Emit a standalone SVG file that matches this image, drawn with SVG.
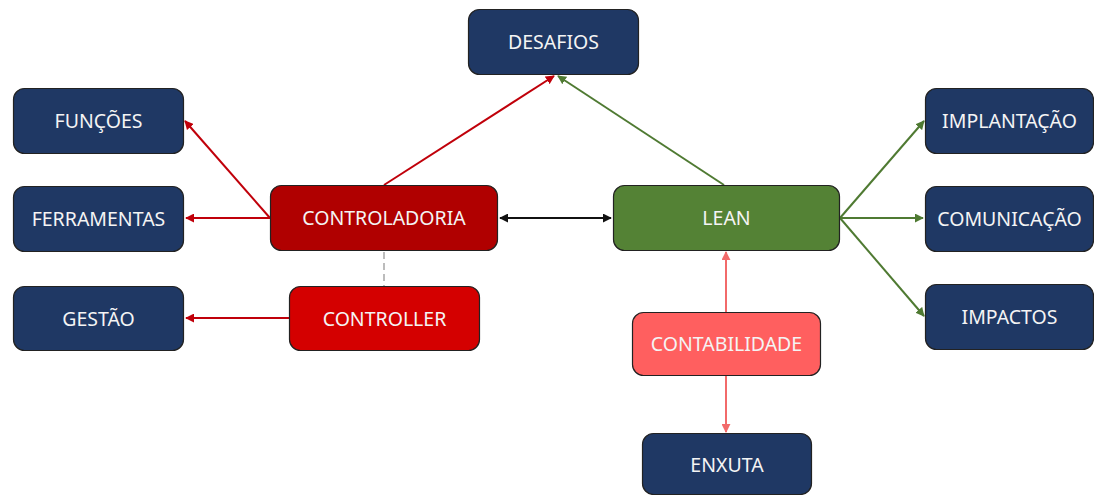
<svg xmlns="http://www.w3.org/2000/svg" width="1094" height="495" viewBox="0 0 1094 495">
<style>
.box{stroke:#222;stroke-width:1.2}
.navy{fill:#1f3864}
.dred{fill:#b00000}
.red{fill:#d40000}
.green{fill:#548235}
.pink{fill:#ff5f5f}
text{font-family:"Noto Sans","Open Sans",sans-serif;font-size:19.5px;fill:#f4f4f4;text-anchor:middle}
.c{fill:none;stroke-width:2}
.cr{stroke:#c0000a}
.cg{stroke:#4f7a32}
.ck{stroke:#111}
.cp{stroke:#f26a6a}
</style>
<defs>
<marker id="ar" viewBox="0 0 10 10" refX="9" refY="5" markerWidth="4.5" markerHeight="4.5" orient="auto-start-reverse"><path d="M0,0 L10,5 L0,10 Z" fill="#c0000a"/></marker>
<marker id="ag" viewBox="0 0 10 10" refX="9" refY="5" markerWidth="4.5" markerHeight="4.5" orient="auto-start-reverse"><path d="M0,0 L10,5 L0,10 Z" fill="#4f7a32"/></marker>
<marker id="ak" viewBox="0 0 10 10" refX="9" refY="5" markerWidth="4.5" markerHeight="4.5" orient="auto-start-reverse"><path d="M0,0 L10,5 L0,10 Z" fill="#111"/></marker>
<marker id="ap" viewBox="0 0 10 10" refX="9" refY="5" markerWidth="4.5" markerHeight="4.5" orient="auto-start-reverse"><path d="M0,0 L10,5 L0,10 Z" fill="#f26a6a"/></marker>
</defs>
<g id="connectors">
<line class="c cr" x1="384" y1="185" x2="554" y2="76" marker-end="url(#ar)"/>
<line class="c cg" x1="724" y1="185" x2="558" y2="76" marker-end="url(#ag)"/>
<line class="c cr" x1="270" y1="218" x2="185" y2="121" marker-end="url(#ar)"/>
<line class="c cr" x1="270" y1="218" x2="186" y2="218" marker-end="url(#ar)"/>
<line class="c cr" x1="289" y1="318" x2="186" y2="318" marker-end="url(#ar)"/>
<line x1="384" y1="252" x2="384" y2="286" stroke="#a6a6a6" stroke-width="1.5" stroke-dasharray="7,4"/>
<line class="c ck" x1="500" y1="218" x2="611" y2="218" marker-start="url(#ak)" marker-end="url(#ak)"/>
<line class="c cg" x1="840" y1="218" x2="924" y2="121" marker-end="url(#ag)"/>
<line class="c cg" x1="840" y1="218" x2="923" y2="218" marker-end="url(#ag)"/>
<line class="c cg" x1="840" y1="218" x2="924" y2="316" marker-end="url(#ag)"/>
<line class="c cp" x1="726" y1="312" x2="726" y2="252" marker-end="url(#ap)"/>
<line class="c cp" x1="726" y1="376" x2="726" y2="432" marker-end="url(#ap)"/>
</g>
<g id="desafios"><rect class="box navy" x="468.5" y="9.5" width="170" height="65" rx="11"/><text x="553.5" y="49">DESAFIOS</text></g>
<g id="funcoes"><rect class="box navy" x="13.5" y="88.5" width="170" height="65" rx="11"/><text x="98.5" y="128">FUNÇÕES</text></g>
<g id="ferramentas"><rect class="box navy" x="13.5" y="186.5" width="170" height="65" rx="11"/><text x="98.5" y="226">FERRAMENTAS</text></g>
<g id="gestao"><rect class="box navy" x="13.5" y="286.5" width="170" height="64" rx="11"/><text x="98.5" y="325.5">GESTÃO</text></g>
<g id="controladoria"><rect class="box dred" x="270.5" y="185.5" width="227" height="65" rx="11"/><text x="384" y="225">CONTROLADORIA</text></g>
<g id="controller"><rect class="box red" x="289.5" y="286.5" width="190" height="64" rx="11"/><text x="384.5" y="325.5">CONTROLLER</text></g>
<g id="lean"><rect class="box green" x="613.5" y="185.5" width="226" height="65" rx="11"/><text x="726.5" y="225">LEAN</text></g>
<g id="contabilidade"><rect class="box pink" x="632.5" y="312.5" width="188" height="63" rx="11"/><text x="726.5" y="351">CONTABILIDADE</text></g>
<g id="enxuta"><rect class="box navy" x="642.5" y="433.5" width="169" height="61" rx="11"/><text x="727" y="471.5">ENXUTA</text></g>
<g id="implantacao"><rect class="box navy" x="925.5" y="88.5" width="168" height="65" rx="11"/><text x="1009.5" y="128">IMPLANTAÇÃO</text></g>
<g id="comunicacao"><rect class="box navy" x="925.5" y="186.5" width="168" height="65" rx="11"/><text x="1009.5" y="226">COMUNICAÇÃO</text></g>
<g id="impactos"><rect class="box navy" x="925.5" y="284.5" width="168" height="65" rx="11"/><text x="1009.5" y="324">IMPACTOS</text></g>
</svg>
